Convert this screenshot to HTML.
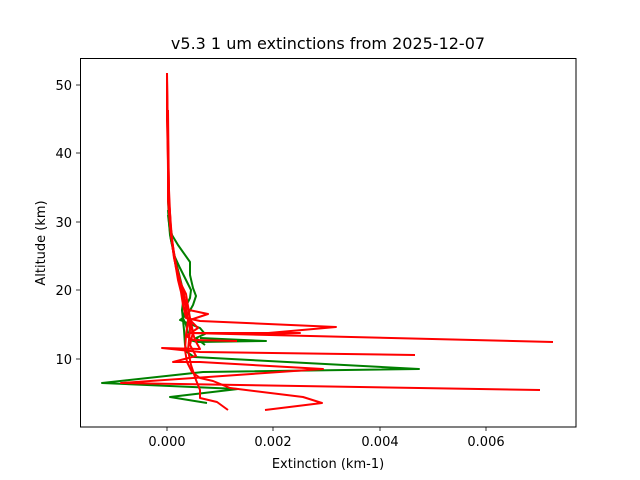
<!DOCTYPE html>
<html><head><meta charset="utf-8"><style>
body{margin:0;background:#fff}
svg{display:block;font-family:"DejaVu Sans","Liberation Sans",sans-serif}
</style></head><body>
<svg width="640" height="480" viewBox="0 0 640 480">
<rect width="640" height="480" fill="#fff"/>
<text x="328" y="49" font-size="16" text-anchor="middle">v5.3 1 um extinctions from 2025-12-07</text>
<g fill="none" stroke-width="2" stroke-linejoin="round">
<polyline stroke="#008000" points="168,200 169,220 172,235 178,245 190,262 190,275 193,288 196,296 193,305 188,314 180,320 200,328 205,334 196,338 205,345"/>
<polyline stroke="#008000" points="168,210 170,235 174,255 180,268 186,280 191,290 190,298 186,306 183,318 186,325 190,340 197,342 266,341 200,338"/>
<polyline stroke="#008000" points="168,215 171,240 176,262 181,282 184,295 182,310 184,330 185,345 187,352 194,357 419,369 203,372 102,383 238,389 170,397 207,403"/>
<polyline stroke="#ff0000" points="167,73 167,120 168,160 168,200 170,225 173,250 176,268 178,280 181,292 183,305 186,318 200,321 336,327 257,334 300,333 190,333 553,342"/>
<polyline stroke="#ff0000" points="167,73 168,140 169,200 171,230 174,255 177,272 181,285 184,298 189,310 208,314 190,320 198,328 186,336 193,340 237,341"/>
<polyline stroke="#ff0000" points="167,80 168,150 169,210 172,240 175,262 179,278 182,292 185,305 188,318 192,330 195,340 200,349 162,348 200,352 415,355"/>
<polyline stroke="#ff0000" points="167,90 168,170 170,225 173,250 176,268 180,282 186,294 188,306 190,318 193,332 190,345 196,356 173,362 200,362 323,369 121,383 540,390"/>
<polyline stroke="#ff0000" points="167,100 169,190 171,235 174,258 178,275 183,290 186,305 188,320 186,335 185,350 187,362 192,372 200,378 213,381 230,388 303,397 322,403 265,410"/>
<polyline stroke="#ff0000" points="168,110 169,200 172,240 176,265 180,280 184,296 187,315 190,330 188,350 191,365 196,380 200,390 200,398 217,402 228,410"/>
</g>
<rect x="80.5" y="58.5" width="495.5" height="368.5" fill="none" stroke="#000" stroke-width="1"/>
<g stroke="#000" stroke-width="0.8">
<line x1="167" y1="427" x2="167" y2="431"/><line x1="273" y1="427" x2="273" y2="431"/>
<line x1="380" y1="427" x2="380" y2="431"/><line x1="486" y1="427" x2="486" y2="431"/>
<line x1="80" y1="359" x2="76" y2="359"/><line x1="80" y1="290" x2="76" y2="290"/>
<line x1="80" y1="222" x2="76" y2="222"/><line x1="80" y1="153" x2="76" y2="153"/>
<line x1="80" y1="85" x2="76" y2="85"/>
</g>
<g font-size="13" text-anchor="middle">
<text x="167" y="446">0.000</text><text x="273" y="446">0.002</text>
<text x="380" y="446">0.004</text><text x="486" y="446">0.006</text>
<text x="328" y="468">Extinction (km-1)</text>
</g>
<g font-size="13" text-anchor="end">
<text x="72" y="364">10</text><text x="72" y="295">20</text><text x="72" y="227">30</text>
<text x="72" y="158">40</text><text x="72" y="90">50</text>
</g>
<text transform="translate(45,243) rotate(-90)" font-size="13" text-anchor="middle">Altitude (km)</text>
</svg>
</body></html>
